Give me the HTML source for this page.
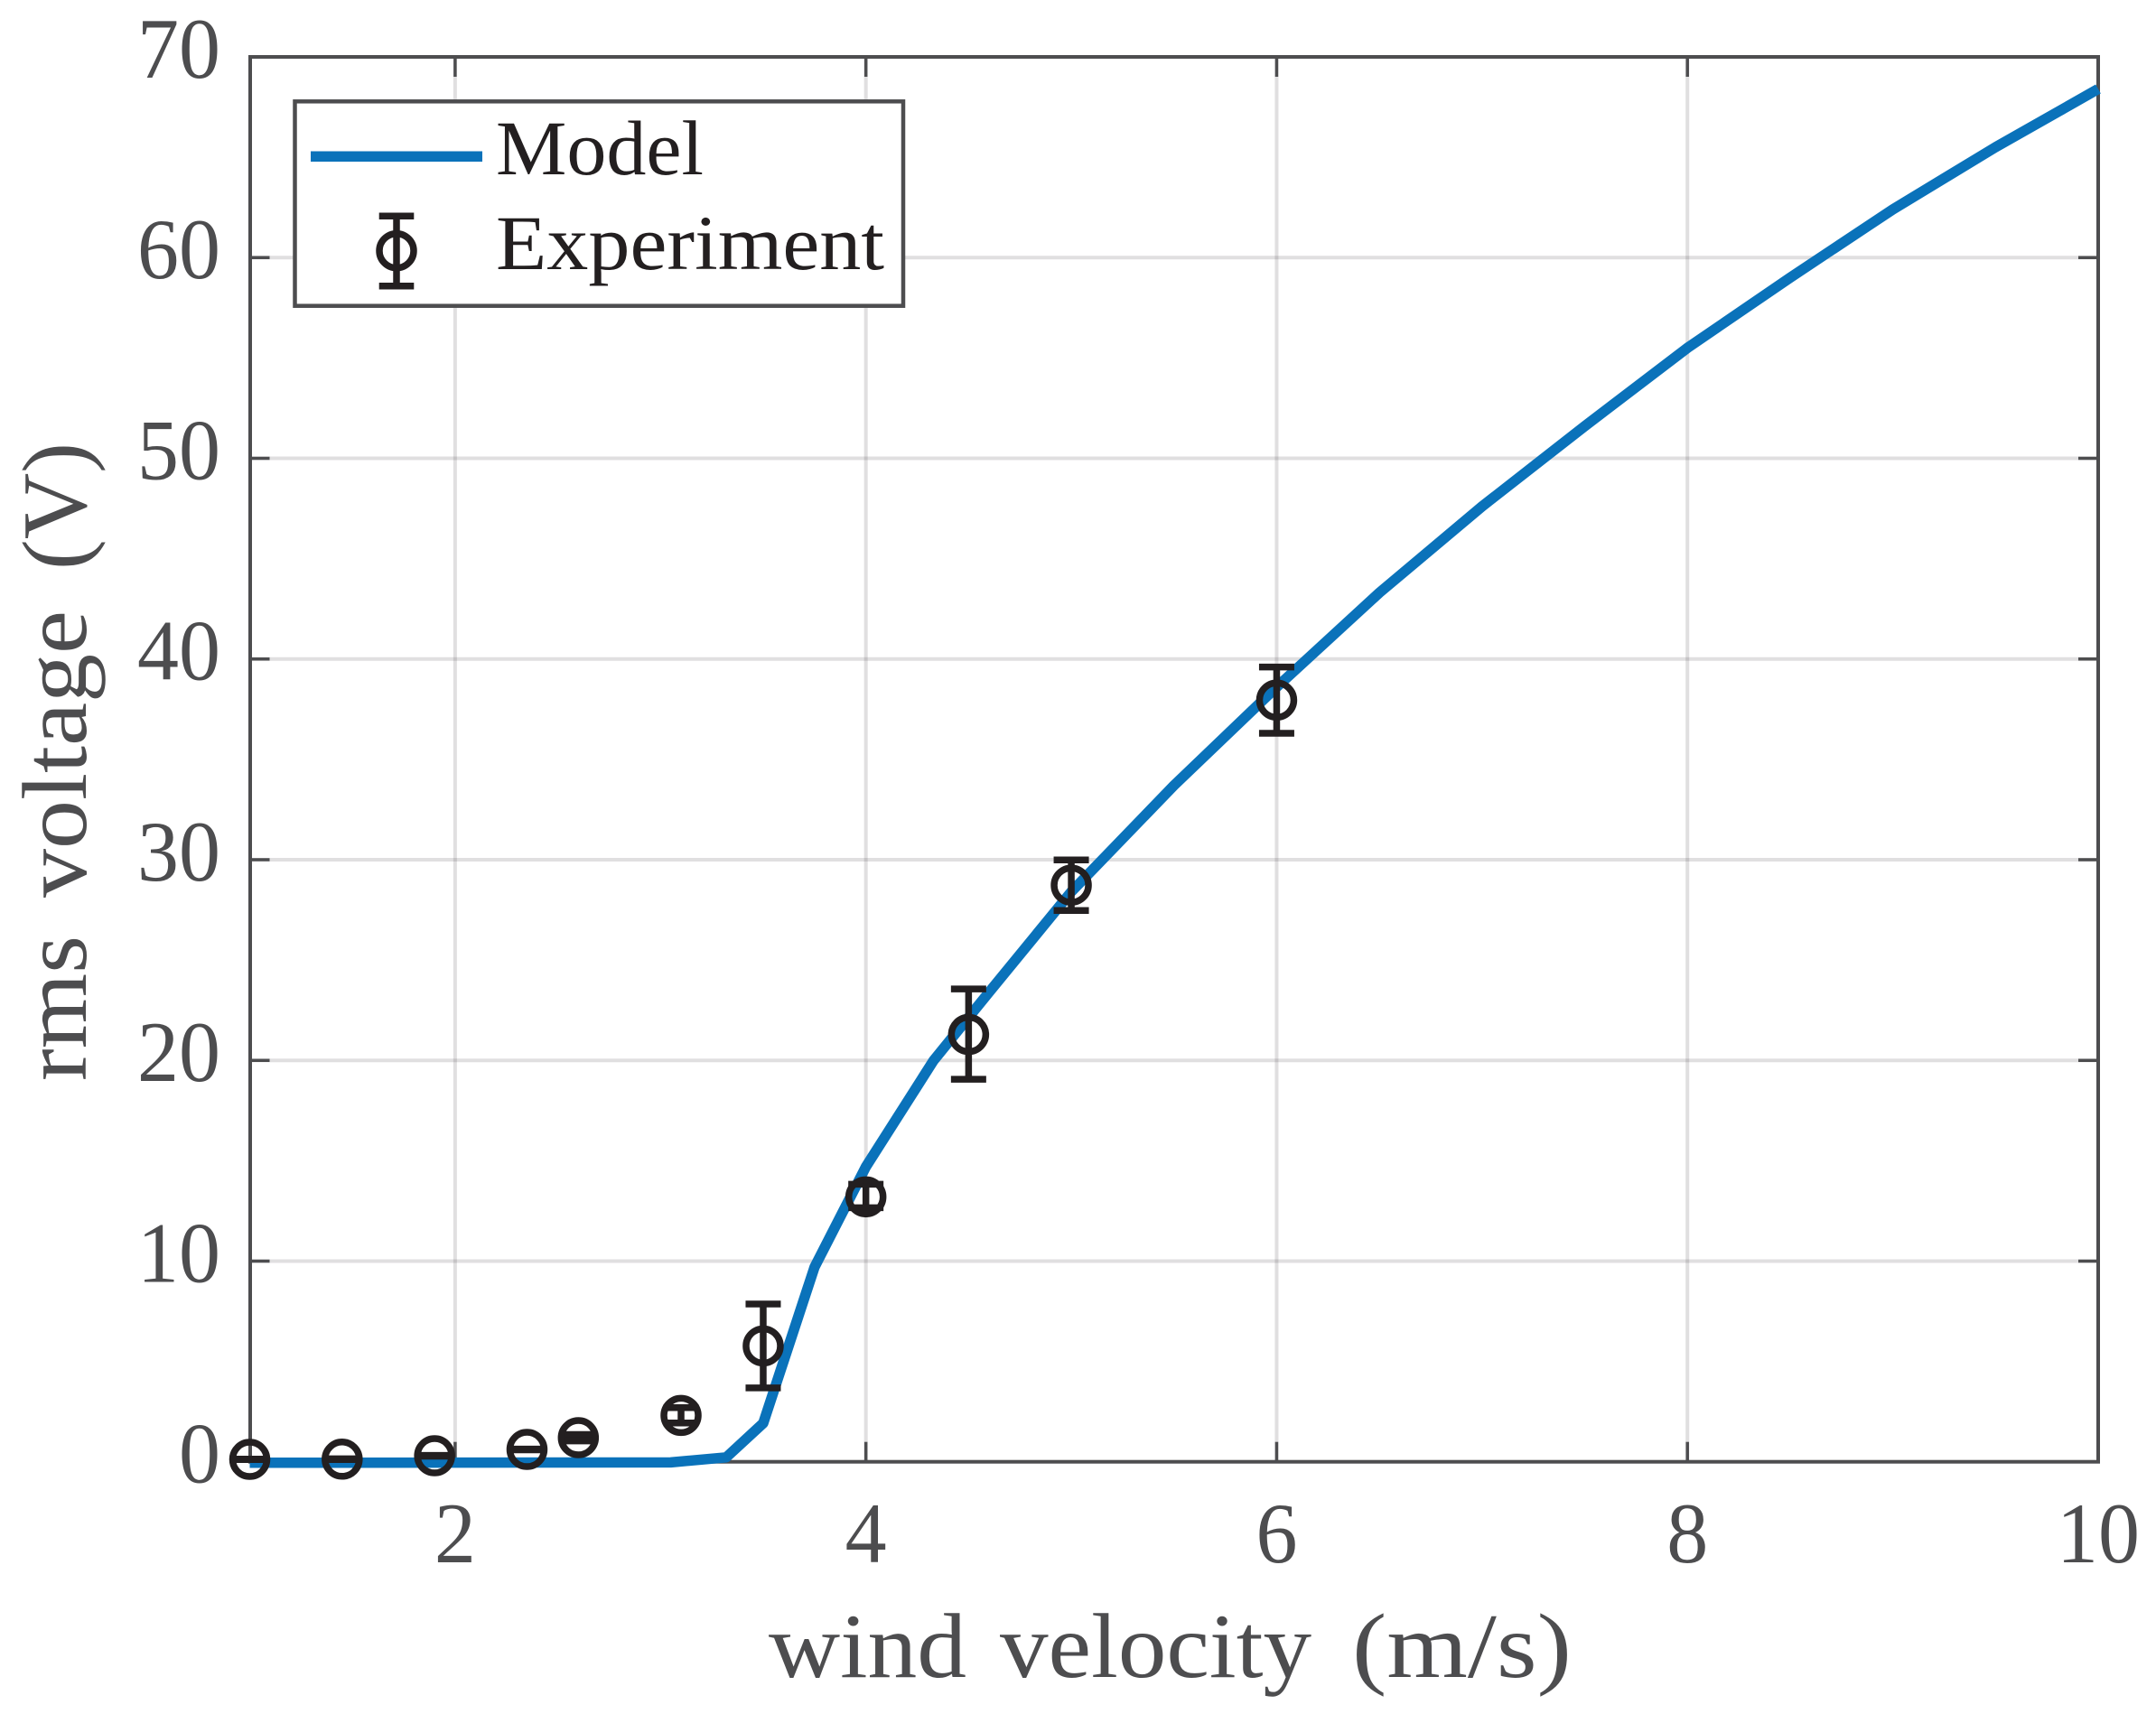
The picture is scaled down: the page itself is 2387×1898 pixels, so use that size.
<!DOCTYPE html>
<html lang="en">
<head>
<meta charset="utf-8">
<title>RMS voltage vs wind velocity</title>
<style>
html,body{margin:0;padding:0;background:#fff;}
svg{display:block;}
text{font-family:"Liberation Serif",serif;}
</style>
</head>
<body>
<svg id="chart" xmlns="http://www.w3.org/2000/svg" width="2387" height="1898" viewBox="0 0 2387 1898">
  <rect x="0" y="0" width="2387" height="1898" fill="#ffffff"/>
  <g id="grid"></g>
  <rect x="277" y="63" width="2046" height="1555.7" fill="none" stroke="#4d4d4f" stroke-width="4"/>
  <g id="ticks"></g>
  <g id="tick-labels"></g>
  <g id="series"></g>
  <text y="1857" font-size="102" fill="#4d4d4f"><tspan x="851" textLength="219" lengthAdjust="spacingAndGlyphs">wind</tspan> <tspan x="1107" textLength="345" lengthAdjust="spacingAndGlyphs">velocity</tspan> <tspan x="1497" textLength="243" lengthAdjust="spacingAndGlyphs">(m/s)</tspan></text>
  <text transform="translate(95,1197) rotate(-90)" y="0" font-size="102" fill="#4d4d4f"><tspan x="0" textLength="161" lengthAdjust="spacingAndGlyphs">rms</tspan> <tspan x="203" textLength="318" lengthAdjust="spacingAndGlyphs">voltage</tspan> <tspan x="566" textLength="141" lengthAdjust="spacingAndGlyphs">(V)</tspan></text>
  <g>
    <rect x="326.5" y="112.3" width="673.5" height="226.4" fill="#ffffff" stroke="#4d4d4f" stroke-width="4.5"/>
    <line x1="344" y1="173.3" x2="534" y2="173.3" stroke="#0a72ba" stroke-width="11.5"/>
    <text x="549" y="193" font-size="86" fill="#231f20" textLength="230" lengthAdjust="spacingAndGlyphs">Model</text>
    <g fill="none" stroke="#231f20" stroke-width="7.5">
      <line x1="439" y1="239.3" x2="439" y2="316.7"/>
      <line x1="419.7" y1="239.3" x2="458.3" y2="239.3"/>
      <line x1="419.7" y1="316.7" x2="458.3" y2="316.7"/>
      <circle cx="439" cy="277.7" r="19"/>
    </g>
    <text x="549" y="298" font-size="86" fill="#231f20" textLength="430" lengthAdjust="spacingAndGlyphs">Experiment</text>
  </g>
</svg>
<script>
const xTickValues = [2, 4, 6, 8, 10];
const yTickValues = [0, 10, 20, 30, 40, 50, 60, 70];
const modelWind = [1, 3.05, 3.32, 3.5, 3.75, 4.0, 4.33, 4.6, 5, 5.5, 6, 6.5, 7, 7.5, 8, 8.5, 9, 9.5, 10];
const modelVoltage = [-0.05, -0.03, 0.22, 1.92, 9.7, 14.7, 20.0, 23.4, 28.4, 33.7, 38.6, 43.3, 47.6, 51.6, 55.5, 59.0, 62.4, 65.5, 68.4];
const expWind = [1, 1.45, 1.9, 2.35, 2.6, 3.1, 3.5, 4, 4.5, 5, 6];
const expVoltage = [0.12, 0.13, 0.3, 0.615, 1.2, 2.31, 5.77, 13.2, 21.29, 28.73, 37.95];
const expLower = [0.11, 0.11, 0.28, 0.595, 1.04, 1.93, 3.68, 12.66, 19.06, 27.47, 36.3];
const expUpper = [0.13, 0.15, 0.32, 0.635, 1.36, 2.7, 7.86, 13.83, 23.56, 29.99, 39.6];

const NS = 'http://www.w3.org/2000/svg';
const plotLeft = 276.5, plotRight = 2323, plotTop = 63, plotBottom = 1618.7;
const xMin = 1, xMax = 10, yMin = 0, yMax = 70;
function xScale(v) { return plotLeft + (v - xMin) / (xMax - xMin) * (plotRight - plotLeft); }
function yScale(v) { return plotBottom - (v - yMin) / (yMax - yMin) * (plotBottom - plotTop); }
function make(tag, attrs, parent) {
  const el = document.createElementNS(NS, tag);
  for (const k in attrs) el.setAttribute(k, attrs[k]);
  parent.appendChild(el);
  return el;
}
const gridG = document.getElementById('grid');
const ticksG = document.getElementById('ticks');
const labelsG = document.getElementById('tick-labels');
const seriesG = document.getElementById('series');
const gridStroke = 'rgba(35,31,32,0.14)';
const axisStroke = '#4d4d4f';
const tickLen = 22;

xTickValues.forEach(function (v) {
  const x = xScale(v);
  if (v < xMax) {
    const g = make('line', {x1: x, y1: plotTop, x2: x, y2: plotBottom, stroke: gridStroke, 'stroke-width': 4}, gridG);
    
    
    const t1 = make('line', {x1: x, y1: plotBottom, x2: x, y2: plotBottom - tickLen, stroke: axisStroke, 'stroke-width': 3.5}, ticksG);
    
    
    const t2 = make('line', {x1: x, y1: plotTop, x2: x, y2: plotTop + tickLen, stroke: axisStroke, 'stroke-width': 3.5}, ticksG);
    
    
  }
  const s = String(v);
  const lab = make('text', {x: x, y: 1730, 'font-size': 95, fill: axisStroke, 'text-anchor': 'middle', textLength: 46 * s.length, lengthAdjust: 'spacingAndGlyphs'}, labelsG);
  lab.textContent = s;
  
  
});

yTickValues.forEach(function (v) {
  const y = yScale(v);
  if (v > yMin && v < yMax) {
    const g = make('line', {x1: plotLeft, y1: y, x2: plotRight, y2: y, stroke: gridStroke, 'stroke-width': 4}, gridG);
    
    
    const t1 = make('line', {x1: plotLeft, y1: y, x2: plotLeft + tickLen, y2: y, stroke: axisStroke, 'stroke-width': 3.5}, ticksG);
    
    
    const t2 = make('line', {x1: plotRight, y1: y, x2: plotRight - tickLen, y2: y, stroke: axisStroke, 'stroke-width': 3.5}, ticksG);
    
    
  }
  const s = String(v);
  const lab = make('text', {x: 244, y: y + 23, 'font-size': 95, fill: axisStroke, 'text-anchor': 'end', textLength: 46 * s.length, lengthAdjust: 'spacingAndGlyphs'}, labelsG);
  lab.textContent = s;
  
  
});

const linePoints = modelWind.map(function (w, i) {
  return xScale(w).toFixed(2) + ',' + yScale(modelVoltage[i]).toFixed(2);
}).join(' ');
const modelLine = make('polyline', {points: linePoints, fill: 'none', stroke: '#0a72ba', 'stroke-width': 11.5, 'stroke-linejoin': 'round', 'stroke-linecap': 'butt'}, seriesG);



const markerColor = '#231f20';
expWind.forEach(function (w, i) {
  const x = xScale(w);
  const yc = yScale(expVoltage[i]);
  const yl = yScale(expLower[i]);
  const yu = yScale(expUpper[i]);
  const grp = make('g', {fill: 'none', stroke: markerColor, 'stroke-width': 7.5}, seriesG);
  
  
  const bar = make('line', {x1: x, y1: yu, x2: x, y2: yl}, grp);
  
  
  const capTop = make('line', {x1: x - 19.5, y1: yu, x2: x + 19.5, y2: yu}, grp);
  
  
  const capBottom = make('line', {x1: x - 19.5, y1: yl, x2: x + 19.5, y2: yl}, grp);
  
  
  const ring = make('circle', {cx: x, cy: yc, r: 19}, grp);
  
  
});
</script>
</body>
</html>
